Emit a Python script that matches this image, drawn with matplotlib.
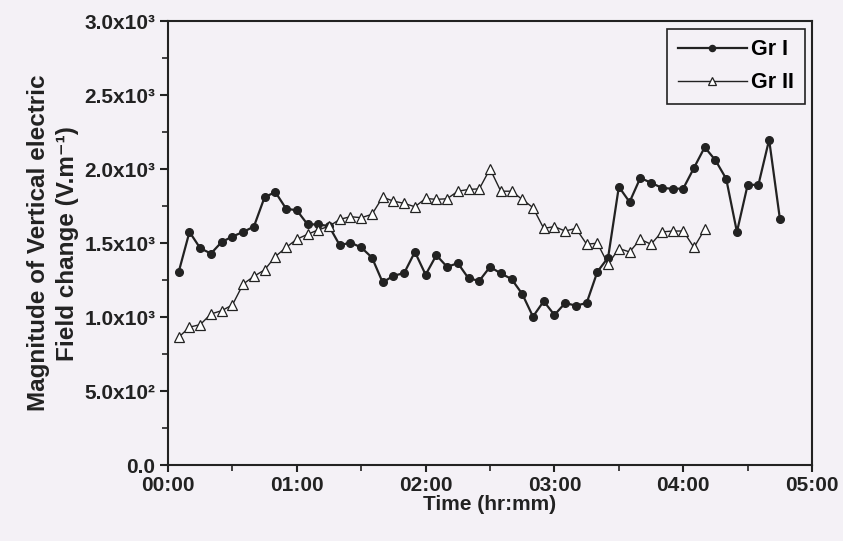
import matplotlib.pyplot as plt
from matplotlib.ticker import MultipleLocator

plt.rcParams['font.family'] = ['Liberation Sans', 'DejaVu Sans']
plt.rcParams['font.weight'] = 'bold'

# time in minutes after 00:00, values in V/m
t_gr1 = list(range(5, 290, 5))
gr1 = [1307, 1576, 1466, 1430, 1508, 1545, 1576, 1612, 1811, 1845,
       1733, 1722, 1627, 1627, 1615, 1486, 1504, 1471, 1403, 1235,
       1280, 1298, 1441, 1287, 1419, 1340, 1365, 1262, 1246, 1340,
       1296, 1258, 1157, 1004, 1108, 1015, 1096, 1078, 1096, 1307,
       1403, 1881, 1778, 1941, 1908, 1874, 1867, 1869, 2009, 2148,
       2060, 1935, 1576, 1894, 1894, 2199, 1666]

t_gr2 = list(range(5, 255, 5))
gr2 = [865, 933, 950, 1022, 1044, 1083, 1224, 1276, 1320, 1410,
       1471, 1527, 1560, 1590, 1614, 1661, 1679, 1672, 1695, 1811,
       1784, 1769, 1746, 1802, 1796, 1800, 1851, 1863, 1867, 2002,
       1851, 1851, 1796, 1740, 1600, 1612, 1582, 1600, 1493, 1500,
       1358, 1464, 1441, 1526, 1493, 1576, 1582, 1582, 1471, 1594]

x_ticks = [0, 60, 120, 180, 240, 300]
x_labels = ['00:00', '01:00', '02:00', '03:00', '04:00', '05:00']
y_ticks = [0, 500, 1000, 1500, 2000, 2500, 3000]
y_labels = ['0.0', '5.0x10²', '1.0x10³', '1.5x10³', '2.0x10³', '2.5x10³', '3.0x10³']

bg = '#f4f1f6'
ink = '#222222'

fig = plt.figure(figsize=(8.43, 5.41), dpi=100, facecolor=bg)
ax = fig.add_axes([0.1993, 0.14, 0.764, 0.821], facecolor=bg)

ax.plot(t_gr1, gr1, color=ink, lw=1.6, marker='o', ms=5.5,
        mfc=ink, mec=ink, label='Gr I')
ax.plot(t_gr2, gr2, color=ink, lw=1.0, marker='^', ms=7,
        mfc='white', mec=ink, mew=0.9, label='Gr II')

ax.set_xlim(0, 300)
ax.set_ylim(0, 3000)
ax.set_xticks(x_ticks)
ax.set_xticklabels(x_labels)
ax.set_yticks(y_ticks)
ax.set_yticklabels(y_labels)
ax.xaxis.set_minor_locator(MultipleLocator(30))
ax.yaxis.set_minor_locator(MultipleLocator(250))

ax.tick_params(which='major', direction='out', length=6, width=1.5,
               labelsize=15, colors=ink)
ax.tick_params(axis='x', which='major', length=5, pad=2.5)
ax.tick_params(axis='y', which='major', pad=3)
ax.tick_params(which='minor', direction='out', length=4, width=1.2, colors=ink)
for lab in ax.get_xticklabels() + ax.get_yticklabels():
    lab.set_fontweight('bold')

for s in ax.spines.values():
    s.set_linewidth(1.5)
    s.set_color(ink)

ax.set_xlabel('Time (hr:mm)', fontsize=15, fontweight='bold', color=ink, labelpad=0)
ax.set_ylabel('Magnitude of Vertical electric\nField change (V.m⁻¹)',
              fontsize=17.5, fontweight='bold', color=ink, labelpad=4,
              linespacing=1.3)

leg = ax.legend(loc='upper right', fontsize=15.5, frameon=True, fancybox=False,
                edgecolor=ink, facecolor=bg, framealpha=1, handlelength=3.2,
                borderaxespad=0.35, labelspacing=0.55, handletextpad=0.2,
                borderpad=0.5, markerscale=0.8)
leg.get_frame().set_linewidth(1.2)
for txt in leg.get_texts():
    txt.set_fontweight('bold')

plt.savefig('out.png', dpi=100, facecolor=bg)
